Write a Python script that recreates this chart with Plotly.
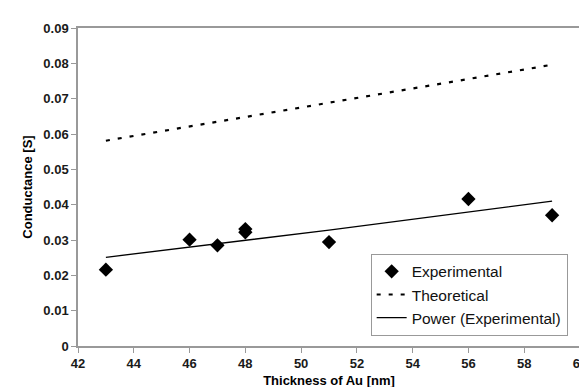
import plotly.graph_objects as go

exp_x = [43, 46, 47, 48, 48, 51, 56, 59]
exp_y = [0.0216, 0.0301, 0.0285, 0.0331, 0.0322, 0.0294, 0.0416, 0.0370]

theo_x = [43, 59]
theo_y = [0.0581, 0.0796]

power_x = [43, 51, 59]
power_y = [0.0251, 0.0328, 0.0410]

x_ticks = [42, 44, 46, 48, 50, 52, 54, 56, 58, 60]
y_ticks = [0, 0.01, 0.02, 0.03, 0.04, 0.05, 0.06, 0.07, 0.08, 0.09]
y_tick_text = ["0", "0.01", "0.02", "0.03", "0.04", "0.05", "0.06", "0.07", "0.08", "0.09"]

fig = go.Figure()
fig.add_trace(go.Scatter(x=exp_x, y=exp_y, mode="markers", name="Experimental",
                         marker=dict(symbol="diamond", size=11, color="black")))
fig.add_trace(go.Scatter(x=theo_x, y=theo_y, mode="lines", name="Theoretical",
                         line=dict(color="black", width=2.2, dash="4px,8px")))
fig.add_trace(go.Scatter(x=power_x, y=power_y, mode="lines", name="Power (Experimental)",
                         line=dict(color="black", width=1.3)))

font_fam = "Liberation Sans, Arial, sans-serif"
fig.update_layout(
    width=587, height=387,
    margin=dict(l=70, r=8, t=20, b=49),
    paper_bgcolor="white", plot_bgcolor="white",
    font=dict(family=font_fam, color="black", size=12),
    showlegend=True,
    legend=dict(x=0.583, y=0.29, xanchor="left", yanchor="top",
                bordercolor="#999999", borderwidth=1, bgcolor="white",
                font=dict(size=15.5, family=font_fam, color="#111111"), tracegroupgap=0,
                itemwidth=30),
    xaxis=dict(range=[42, 60], tickvals=x_ticks, showgrid=False, zeroline=False,
               showline=True, linecolor="#999999", linewidth=1.5, mirror=True,
               ticks="outside", ticklen=5, tickcolor="#999999",
               tickfont=dict(size=13, family=font_fam, weight="bold", color="#1a1a1a"),
               title=dict(text="Thickness of Au [nm]", standoff=6,
                          font=dict(size=13, family=font_fam, weight="bold"))),
    yaxis=dict(range=[0, 0.09], tickvals=y_ticks, ticktext=y_tick_text, showgrid=False,
               zeroline=False, showline=True, linecolor="#999999", linewidth=1.5, mirror=True,
               ticks="outside", ticklen=5, tickcolor="#999999",
               tickfont=dict(size=13, family=font_fam, weight="bold", color="#1a1a1a"),
               title=dict(text="Conductance [S]", standoff=8,
                          font=dict(size=13, family=font_fam, weight="bold"))),
)

fig.write_html("out.html")
